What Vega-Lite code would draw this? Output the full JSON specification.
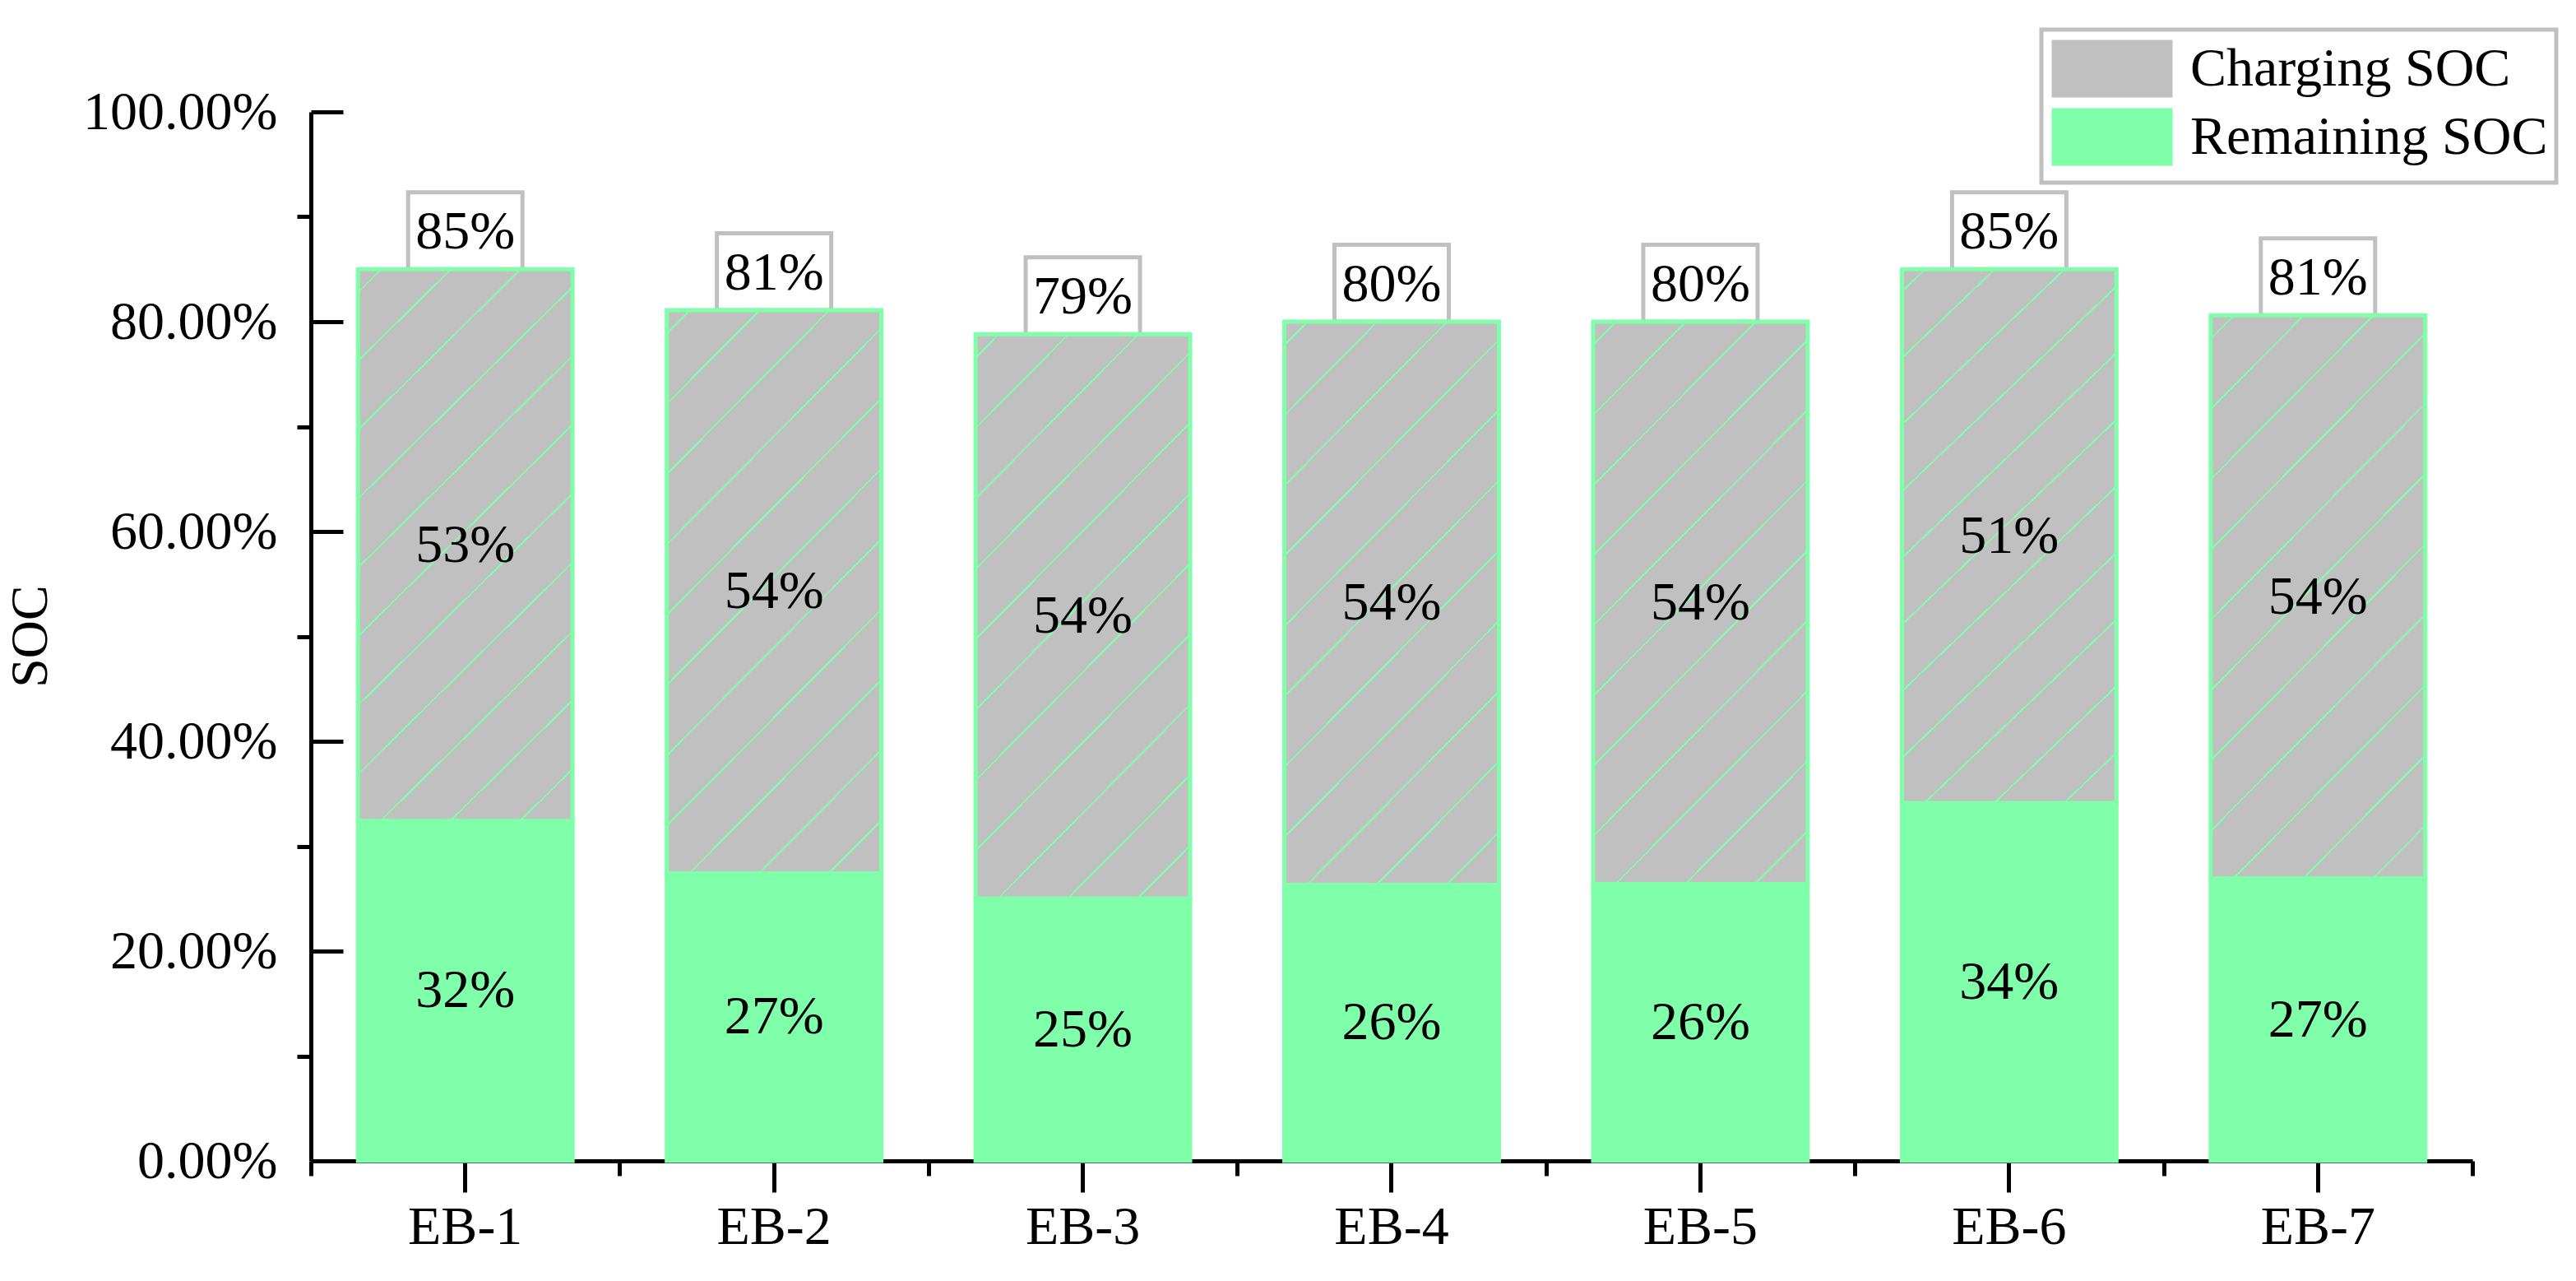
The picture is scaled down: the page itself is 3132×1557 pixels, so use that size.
{
  "$schema": "https://vega.github.io/schema/vega-lite/v6.json",
  "width": 2628,
  "height": 1275,
  "autosize": {"type": "none"},
  "padding": {"left": 378, "top": 136, "right": 126, "bottom": 146},
  "background": "white",
  "config": {
    "view": {"stroke": null},
    "font": "Liberation Serif",
    "axis": {
      "domainColor": "black", "domainWidth": 5, "tickColor": "black", "tickWidth": 5,
      "labelFont": "Liberation Serif", "labelFontSize": 66, "labelColor": "black", "labelLimit": 0,
      "titleFont": "Liberation Serif", "titleFontSize": 64, "titleFontWeight": "normal", "titleColor": "black",
      "grid": false
    }
  },
  "resolve": {"scale": {"x": "independent", "y": "independent"}},
  "layer": [
    {
      "data": {"values": [
        {"bus": "EB-1", "type": "Remaining SOC", "value": 0.324},
        {"bus": "EB-1", "type": "Charging SOC", "value": 0.526},
        {"bus": "EB-2", "type": "Remaining SOC", "value": 0.274},
        {"bus": "EB-2", "type": "Charging SOC", "value": 0.537},
        {"bus": "EB-3", "type": "Remaining SOC", "value": 0.250},
        {"bus": "EB-3", "type": "Charging SOC", "value": 0.538},
        {"bus": "EB-4", "type": "Remaining SOC", "value": 0.263},
        {"bus": "EB-4", "type": "Charging SOC", "value": 0.537},
        {"bus": "EB-5", "type": "Remaining SOC", "value": 0.264},
        {"bus": "EB-5", "type": "Charging SOC", "value": 0.536},
        {"bus": "EB-6", "type": "Remaining SOC", "value": 0.341},
        {"bus": "EB-6", "type": "Charging SOC", "value": 0.509},
        {"bus": "EB-7", "type": "Remaining SOC", "value": 0.269},
        {"bus": "EB-7", "type": "Charging SOC", "value": 0.537}
      ]},
      "encoding": {
        "x": {
          "field": "bus", "type": "nominal", "sort": null,
          "scale": {"paddingInner": 0.305, "paddingOuter": 0.1525},
          "axis": {"title": null, "labelAngle": 0, "tickSize": 38, "labelPadding": 10}
        }
      },
      "layer": [
        {
          "mark": {"type": "point", "shape": "M-69.5,-93.5H69.5V0H-69.5Z", "size": 4, "filled": true, "fill": "white", "stroke": "#C0C0C0", "strokeWidth": 5, "opacity": 1},
          "encoding": {
            "y": {
              "aggregate": "sum", "field": "value", "type": "quantitative", "title": "SOC",
              "scale": {"domain": [0, 1], "nice": false},
              "axis": {
                "title": "SOC", "values": [0, 0.2, 0.4, 0.6, 0.8, 1.0], "format": ".2%",
                "tickSize": -39, "labelPadding": 80, "labelLimit": 0,
                "titleX": -322, "titleY": 637, "titleBaseline": "alphabetic", "titleAlign": "center", "titleAngle": -90
              }
            }
          }
        },
        {
          "mark": {"type": "bar"},
          "encoding": {
            "y": {"field": "value", "type": "quantitative", "title": "SOC",
              "axis": {
                "title": "SOC", "values": [0, 0.2, 0.4, 0.6, 0.8, 1.0], "format": ".2%",
                "tickSize": -39, "labelPadding": 80, "labelLimit": 0,
                "titleX": -322, "titleY": 637, "titleBaseline": "alphabetic", "titleAlign": "center", "titleAngle": -90
              }
            },
            "color": {
              "field": "type", "type": "nominal",
              "scale": {"domain": ["Charging SOC", "Remaining SOC"], "range": ["#C0C0C0", "#80FFAA"]},
              "legend": {
                "orient": "none", "legendX": 2104, "legendY": -100, "title": null,
                "symbolType": "M-1,-1H3.2V1H-1Z", "symbolSize": 4900,
                "symbolStrokeColor": "#80FFAA", "symbolStrokeWidth": 5, "symbolOpacity": 1,
                "labelFont": "Liberation Serif", "labelFontSize": 66, "labelColor": "black",
                "labelOffset": 96, "labelLimit": 0, "rowPadding": -8, "padding": 10,
                "strokeColor": "#C0C0C0", "fillColor": "white",
                "encode": {
                  "legend": {"update": {"strokeWidth": {"value": 5}}},
                  "symbols": {
                    "enter": {"fill": [
                      {"test": "datum.value === 'Charging SOC'", "value": {
                        "gradient": "linear", "x1": 0, "y1": 0, "x2": 1.203, "y2": 0.573,
                        "stops": [
                          {"offset": 0, "color": "#C0C0C0"},
                          {"offset": 0.423, "color": "#C0C0C0"},
                          {"offset": 0.423, "color": "#80FFAA"},
                          {"offset": 0.437, "color": "#80FFAA"},
                          {"offset": 0.437, "color": "#C0C0C0"},
                          {"offset": 0.831, "color": "#C0C0C0"},
                          {"offset": 0.831, "color": "#80FFAA"},
                          {"offset": 0.845, "color": "#80FFAA"},
                          {"offset": 0.845, "color": "#C0C0C0"},
                          {"offset": 1, "color": "#C0C0C0"}
                        ]}},
                      {"value": "#80FFAA"}
                    ]},
                    "update": {"fill": [
                      {"test": "datum.value === 'Charging SOC'", "value": {
                        "gradient": "linear", "x1": 0, "y1": 0, "x2": 1.203, "y2": 0.573,
                        "stops": [
                          {"offset": 0, "color": "#C0C0C0"},
                          {"offset": 0.423, "color": "#C0C0C0"},
                          {"offset": 0.423, "color": "#80FFAA"},
                          {"offset": 0.437, "color": "#80FFAA"},
                          {"offset": 0.437, "color": "#C0C0C0"},
                          {"offset": 0.831, "color": "#C0C0C0"},
                          {"offset": 0.831, "color": "#80FFAA"},
                          {"offset": 0.845, "color": "#80FFAA"},
                          {"offset": 0.845, "color": "#C0C0C0"},
                          {"offset": 1, "color": "#C0C0C0"}
                        ]}},
                      {"value": "#80FFAA"}
                    ]}
                  }
                }
              }
            },
            "order": {"field": "type", "sort": "descending"}
          }
        },
        {
          "mark": {
            "type": "bar", "stroke": "#80FFAA", "strokeWidth": 5,
            "fill": {
              "gradient": "linear", "x1": 0, "y1": 0, "x2": 0.463, "y2": 1.206,
              "stops": [
                {"offset": 0, "color": "rgba(128,255,170,0)"},
                {"offset": 0.0286, "color": "rgba(128,255,170,0)"}, {"offset": 0.0286, "color": "#80FFAA"}, {"offset": 0.0314, "color": "#80FFAA"}, {"offset": 0.0314, "color": "rgba(128,255,170,0)"},
                {"offset": 0.1188, "color": "rgba(128,255,170,0)"}, {"offset": 0.1188, "color": "#80FFAA"}, {"offset": 0.1216, "color": "#80FFAA"}, {"offset": 0.1216, "color": "rgba(128,255,170,0)"},
                {"offset": 0.2090, "color": "rgba(128,255,170,0)"}, {"offset": 0.2090, "color": "#80FFAA"}, {"offset": 0.2118, "color": "#80FFAA"}, {"offset": 0.2118, "color": "rgba(128,255,170,0)"},
                {"offset": 0.2992, "color": "rgba(128,255,170,0)"}, {"offset": 0.2992, "color": "#80FFAA"}, {"offset": 0.3020, "color": "#80FFAA"}, {"offset": 0.3020, "color": "rgba(128,255,170,0)"},
                {"offset": 0.3894, "color": "rgba(128,255,170,0)"}, {"offset": 0.3894, "color": "#80FFAA"}, {"offset": 0.3922, "color": "#80FFAA"}, {"offset": 0.3922, "color": "rgba(128,255,170,0)"},
                {"offset": 0.4796, "color": "rgba(128,255,170,0)"}, {"offset": 0.4796, "color": "#80FFAA"}, {"offset": 0.4824, "color": "#80FFAA"}, {"offset": 0.4824, "color": "rgba(128,255,170,0)"},
                {"offset": 0.5698, "color": "rgba(128,255,170,0)"}, {"offset": 0.5698, "color": "#80FFAA"}, {"offset": 0.5726, "color": "#80FFAA"}, {"offset": 0.5726, "color": "rgba(128,255,170,0)"},
                {"offset": 0.6600, "color": "rgba(128,255,170,0)"}, {"offset": 0.6600, "color": "#80FFAA"}, {"offset": 0.6628, "color": "#80FFAA"}, {"offset": 0.6628, "color": "rgba(128,255,170,0)"},
                {"offset": 0.7502, "color": "rgba(128,255,170,0)"}, {"offset": 0.7502, "color": "#80FFAA"}, {"offset": 0.7530, "color": "#80FFAA"}, {"offset": 0.7530, "color": "rgba(128,255,170,0)"},
                {"offset": 0.8404, "color": "rgba(128,255,170,0)"}, {"offset": 0.8404, "color": "#80FFAA"}, {"offset": 0.8432, "color": "#80FFAA"}, {"offset": 0.8432, "color": "rgba(128,255,170,0)"},
                {"offset": 0.9306, "color": "rgba(128,255,170,0)"}, {"offset": 0.9306, "color": "#80FFAA"}, {"offset": 0.9334, "color": "#80FFAA"}, {"offset": 0.9334, "color": "rgba(128,255,170,0)"},
                {"offset": 1, "color": "rgba(128,255,170,0)"}
              ]
            }
          },
          "encoding": {
            "y": {"field": "value", "type": "quantitative", "title": "SOC",
              "axis": {
                "title": "SOC", "values": [0, 0.2, 0.4, 0.6, 0.8, 1.0], "format": ".2%",
                "tickSize": -39, "labelPadding": 80, "labelLimit": 0,
                "titleX": -322, "titleY": 637, "titleBaseline": "alphabetic", "titleAlign": "center", "titleAngle": -90
              }
            },
            "detail": {"field": "type"},
            "order": {"field": "type", "sort": "descending"}
          }
        },
        {
          "mark": {"type": "text", "font": "Liberation Serif", "fontSize": 66, "color": "black", "baseline": "middle", "dy": -45},
          "encoding": {
            "y": {"aggregate": "sum", "field": "value", "type": "quantitative", "title": "SOC",
              "axis": {
                "title": "SOC", "values": [0, 0.2, 0.4, 0.6, 0.8, 1.0], "format": ".2%",
                "tickSize": -39, "labelPadding": 80, "labelLimit": 0,
                "titleX": -322, "titleY": 637, "titleBaseline": "alphabetic", "titleAlign": "center", "titleAngle": -90
              }
            },
            "text": {"aggregate": "sum", "field": "value", "type": "quantitative", "format": ".0%"}
          }
        },
        {
          "mark": {"type": "text", "font": "Liberation Serif", "fontSize": 66, "color": "black", "baseline": "middle"},
          "encoding": {
            "y": {"field": "value", "type": "quantitative", "stack": "zero", "bandPosition": 0.5, "title": "SOC",
              "axis": {
                "title": "SOC", "values": [0, 0.2, 0.4, 0.6, 0.8, 1.0], "format": ".2%",
                "tickSize": -39, "labelPadding": 80, "labelLimit": 0,
                "titleX": -322, "titleY": 637, "titleBaseline": "alphabetic", "titleAlign": "center", "titleAngle": -90
              }
            },
            "detail": {"field": "type"},
            "order": {"field": "type", "sort": "descending"},
            "text": {"field": "value", "type": "quantitative", "format": ".0%"}
          }
        }
      ]
    },
    {
      "data": {"values": [{"edge": 0, "level": 0}, {"edge": 7, "level": 1}]},
      "mark": {"type": "point", "opacity": 0},
      "encoding": {
        "x": {
          "field": "edge", "type": "quantitative",
          "scale": {"domain": [0, 7], "nice": false, "zero": false},
          "axis": {"orient": "bottom", "values": [0, 1, 2, 3, 4, 5, 6, 7], "labels": false, "domain": false, "tickSize": 18, "title": null, "grid": false}
        },
        "y": {
          "field": "level", "type": "quantitative",
          "scale": {"domain": [0, 1], "nice": false, "zero": false},
          "axis": {"orient": "left", "values": [0.1, 0.3, 0.5, 0.7, 0.9], "labels": false, "domain": false, "tickSize": 17, "title": null, "grid": false}
        }
      }
    }
  ]
}
